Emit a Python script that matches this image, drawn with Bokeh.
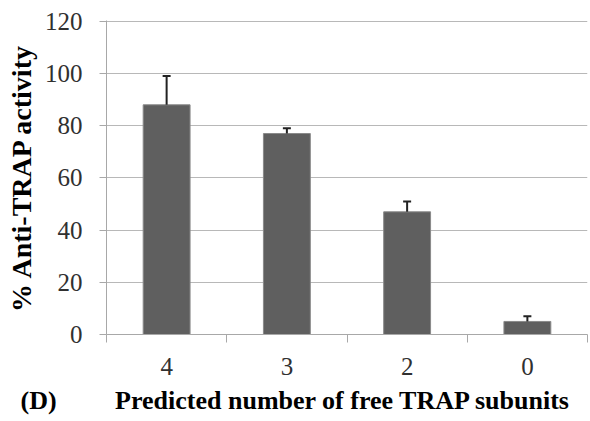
from bokeh.plotting import figure
from bokeh.models import FixedTicker, Whisker, ColumnDataSource, TeeHead, Title, Range1d
from bokeh.embed import file_html
from bokeh.resources import INLINE

categories = ["4", "3", "2", "0"]
values = [88, 77, 47, 5]
errors = [11, 2, 4, 2]
y_ticks = [0, 20, 40, 60, 80, 100, 120]
panel_tag = "(D)"
x_title = "Predicted number of free TRAP subunits"
y_title = "% Anti-TRAP activity"

xs = [i + 0.5 for i in range(len(categories))]
src = ColumnDataSource(dict(x=xs, top=values,
                            upper=[v + e for v, e in zip(values, errors)]))

p = figure(width=590, height=421, output_backend="svg", toolbar_location=None,
           x_range=Range1d(0, len(categories)), y_range=Range1d(0, 120.3),
           min_border_left=106, min_border_right=3, min_border_top=20,
           min_border_bottom=86)
p.outline_line_color = None
p.background_fill_color = "white"

p.vbar(x="x", top="top", width=0.39, source=src, fill_color="#5f5f5f",
       line_color="#8a8a8a", line_width=1)

wh = Whisker(source=src, base="x", lower="top", upper="upper", dimension="height",
             line_color="#222222", line_width=2,
             upper_head=TeeHead(size=8, line_color="#222222", line_width=2),
             lower_head=None)
wh.level = "overlay"
p.add_layout(wh)

font = "Liberation Serif"
grey = "#a8a8a8"

xa = p.xaxis[0]
xa.ticker = FixedTicker(ticks=xs, minor_ticks=list(range(len(categories) + 1)))
xa.major_label_overrides = {x: c for x, c in zip(xs, categories)}
xa.major_tick_line_color = None
xa.major_tick_out = 0
xa.major_tick_in = 0
xa.minor_tick_out = 8
xa.minor_tick_in = 0
xa.minor_tick_line_color = grey
xa.axis_line_color = grey
xa.major_label_text_font = font
xa.major_label_text_font_size = "25px"
xa.major_label_text_color = "#303030"
xa.major_label_standoff = 15

ya = p.yaxis[0]
ya.ticker = FixedTicker(ticks=y_ticks)
ya.major_tick_out = 7
ya.major_tick_in = 0
ya.major_tick_line_color = grey
ya.minor_tick_line_color = None
ya.axis_line_color = grey
ya.major_label_text_font = font
ya.major_label_text_font_size = "25px"
ya.major_label_text_color = "#303030"
ya.major_label_standoff = 17
ya.axis_label = y_title
ya.axis_label_text_font = font
ya.axis_label_text_font_size = "28px"
ya.axis_label_text_font_style = "bold"
ya.axis_label_text_color = "black"
ya.axis_label_standoff = 5

p.xgrid.visible = False
p.ygrid.grid_line_color = "#b8b8b8"
p.ygrid.grid_line_width = 1

# panel tag and x-axis title share one baseline, as in the reference
NBSP = "\u00a0"
bottom_title = Title(text=panel_tag + NBSP * 9 + x_title, align="left",
                     vertical_align="bottom", offset=-86, standoff=13,
                     text_font=font, text_font_size="26px",
                     text_font_style="bold", text_color="black")
p.add_layout(bottom_title, "below")

open("out.html", "w").write(file_html(p, INLINE))
